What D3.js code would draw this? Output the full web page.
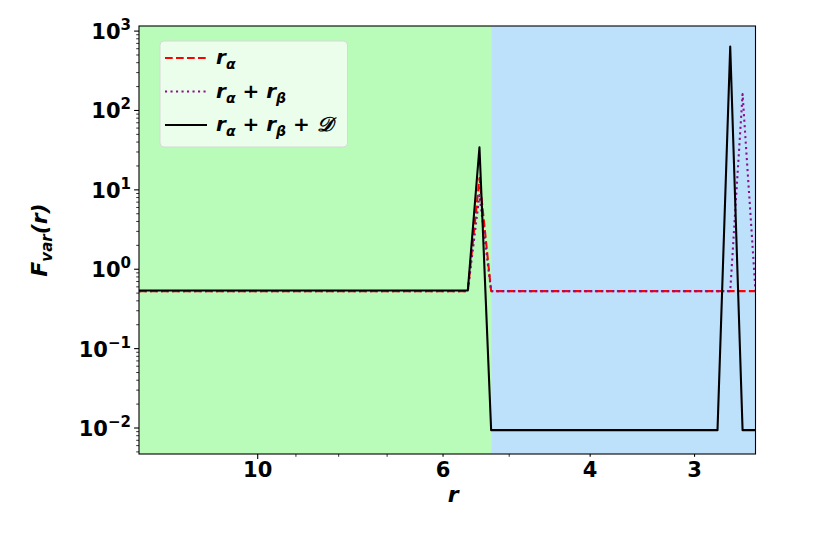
<!DOCTYPE html>
<html><head><meta charset="utf-8">
<script src="https://cdn.jsdelivr.net/npm/d3@7"></script>
<style>body{margin:0;background:#fff}</style>
</head><body><svg id="c" width="830" height="534"></svg>
<script>
// ---- data ----
const rGrid      = [13.87, 5.604, 5.427, 5.255, 2.816, 2.719, 2.628, 2.536];
const fAlpha     = [0.53, 0.53, 14.1, 0.53, 0.53, 0.53, 0.53, 0.53];
const fAlphaBeta = [0.53, 0.53, 8.6, 0.53, 0.53, 0.53, 161, 0.53];
const fFull      = [0.54, 0.54, 34.4, 0.0094, 0.0094, 637, 0.0094, 0.0094];
const regionEdges = [13.87, 5.255, 2.536];
const xTickValues = [10, 6, 4, 3];
const xMinorValues = [9, 8, 7, 5];
const yTickExponents = [-2, -1, 0, 1, 2, 3];
const xDomain = [13.87, 2.536];
const yDomainExp = [-2.3275, 3.0642];

// ---- layout / style ----
const L = 139, R = 755.5, T = 26, B = 454;
const FONT = "'DejaVu Sans', sans-serif";
const regionFill = ["#b9fbb9", "#bde0fb"];
const seriesStyle = [
  {data: fAlpha, color: "#ff0000", dash: "7.7,3.3"},
  {data: fAlphaBeta, color: "#8a108a", dash: "2.1,3.4"},
  {data: fFull, color: "#000000", dash: null}
];

const svg = d3.select("#c");
const x = d3.scaleLog().domain(xDomain).range([L, R]);
const y = d3.scaleLog().domain(yDomainExp.map(e => Math.pow(10, e))).range([B, T]);

// regions
svg.selectAll("rect.region").data(d3.pairs(regionEdges)).enter().append("rect")
  .attr("class", "region")
  .attr("x", d => x(d[0])).attr("y", T)
  .attr("width", d => x(d[1]) - x(d[0])).attr("height", B - T)
  .attr("fill", (d, i) => regionFill[i]);

// clip
svg.append("clipPath").attr("id", "clip").append("rect")
  .attr("x", L).attr("y", T).attr("width", R - L).attr("height", B - T);

const line = d3.line().x(d => x(d[0])).y(d => y(d[1]));
const g = svg.append("g").attr("clip-path", "url(#clip)");
seriesStyle.forEach(s => {
  g.append("path")
    .attr("d", line(rGrid.map((r, i) => [r, s.data[i]])))
    .attr("fill", "none").attr("stroke", s.color).attr("stroke-width", 2.08)
    .attr("stroke-linejoin", "round")
    .attr("stroke-dasharray", s.dash);
});

// axes frame
svg.append("rect").attr("x", L).attr("y", T).attr("width", R - L).attr("height", B - T)
  .attr("fill", "none").attr("stroke", "#000").attr("stroke-width", 1.1);

// x ticks
const xAxis = svg.append("g");
xTickValues.forEach(v => {
  const len = v === 10 ? 4.9 : 2.8;
  xAxis.append("line").attr("x1", x(v)).attr("x2", x(v)).attr("y1", B).attr("y2", B + len)
    .attr("stroke", "#000").attr("stroke-width", 1.1);
  xAxis.append("text").attr("x", x(v)).attr("y", B + 22.5).attr("text-anchor", "middle")
    .attr("font-family", FONT).attr("font-weight", "bold").attr("font-size", 21)
    .text(d3.format("d")(v));
});
xMinorValues.forEach(v => {
  xAxis.append("line").attr("x1", x(v)).attr("x2", x(v)).attr("y1", B).attr("y2", B + 2.8)
    .attr("stroke", "#000").attr("stroke-width", 0.8);
});

// y ticks
const yAxis = svg.append("g");
yTickExponents.forEach(e => {
  const v = Math.pow(10, e);
  yAxis.append("line").attr("x1", L - 4.9).attr("x2", L).attr("y1", y(v)).attr("y2", y(v))
    .attr("stroke", "#000").attr("stroke-width", 1.1);
  const t = yAxis.append("text").attr("x", L - 8).attr("y", y(v) + 8).attr("text-anchor", "end")
    .attr("font-family", FONT).attr("font-weight", "bold").attr("font-size", 21);
  t.append("tspan").text("10");
  t.append("tspan").attr("dy", -9).attr("font-size", 15).text(e < 0 ? "\u2212" + (-e) : String(e));
});
// y minor ticks
for (let e = -3; e <= 3; e++) {
  for (let k = 2; k <= 9; k++) {
    const v = k * Math.pow(10, e);
    const yy = y(v);
    if (yy < T || yy > B) continue;
    yAxis.append("line").attr("x1", L - 2.8).attr("x2", L).attr("y1", yy).attr("y2", yy)
      .attr("stroke", "#000").attr("stroke-width", 0.8);
  }
}

// axis labels
svg.append("text").attr("x", (L + R) / 2 + 6).attr("y", 502).attr("text-anchor", "middle")
  .attr("font-family", FONT).attr("font-weight", "bold").attr("font-style", "italic")
  .attr("font-size", 22).text("r");
const yl = svg.append("text").attr("transform", `translate(47,${(T + B) / 2}) rotate(-90)`)
  .attr("text-anchor", "middle")
  .attr("font-family", FONT).attr("font-weight", "bold").attr("font-style", "italic")
  .attr("font-size", 22);
yl.append("tspan").text("F");
yl.append("tspan").attr("dy", 5).attr("font-size", 15).text("var");
yl.append("tspan").attr("dy", -5).text("(r)");

// legend
const lg = svg.append("g");
lg.append("rect").attr("x", 160).attr("y", 41).attr("width", 187.5).attr("height", 106)
  .attr("rx", 4).attr("fill", "#f0fef1").attr("fill-opacity", 0.9)
  .attr("stroke", "#d8d8d8").attr("stroke-width", 1);
const legendLabels = [
  [["r", 0], ["α", 1]],
  [["r", 0], ["α", 1], [" + ", 0], ["r", 0], ["β", 1]],
  [["r", 0], ["α", 1], [" + ", 0], ["r", 0], ["β", 1], [" + ", 0], ["𝒟", 0]]
];
seriesStyle.forEach((s, i) => {
  const yy = 58 + i * 33.5;
  lg.append("line").attr("x1", 165).attr("x2", 207).attr("y1", yy).attr("y2", yy)
    .attr("stroke", s.color).attr("stroke-width", 2.08).attr("stroke-dasharray", s.dash);
  const t = lg.append("text").attr("x", 216).attr("y", yy + 6)
    .attr("font-family", FONT).attr("font-weight", "bold").attr("font-style", "italic")
    .attr("font-size", 20);
  let down = false;
  legendLabels[i].forEach(([txt, sub]) => {
    const ts = t.append("tspan").text(txt).attr("xml:space", "preserve");
    if (sub && !down) { ts.attr("dy", 5).attr("font-size", 14); down = true; }
    else if (!sub && down) { ts.attr("dy", -5); down = false; }
    else if (sub) ts.attr("font-size", 14);
  });
});
</script></body></html>
